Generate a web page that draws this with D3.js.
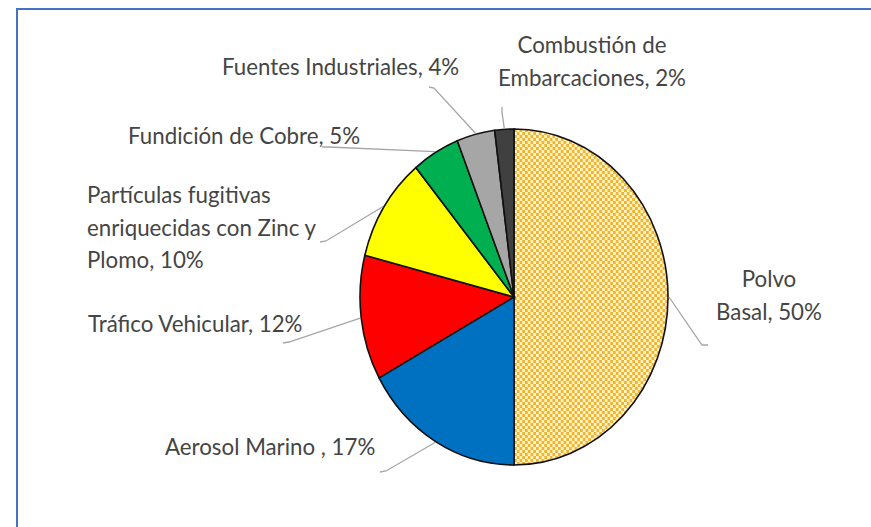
<!DOCTYPE html>
<html>
<head>
<meta charset="utf-8">
<script src="https://cdn.jsdelivr.net/npm/d3@7"></script>
<style>
  body { margin: 0; background: #fff; }
  svg { display: block; }
</style>
</head>
<body>
<div id="visual"></div>
<script>
// Data
const categories = ["Polvo Basal", "Aerosol Marino", "Tráfico Vehicular",
  "Partículas fugitivas enriquecidas con Zinc y Plomo", "Fundición de Cobre",
  "Fuentes Industriales", "Combustión de Embarcaciones"];
const values = [50, 17, 12, 10, 5, 4, 2];
const labelLines = [
  ["Polvo", "Basal, 50%"],
  ["Aerosol Marino , 17%"],
  ["Tráfico Vehicular, 12%"],
  ["Partículas fugitivas", "enriquecidas con Zinc y", "Plomo, 10%"],
  ["Fundición de Cobre, 5%"],
  ["Fuentes Industriales, 4%"],
  ["Combustión de", "Embarcaciones, 2%"]
];
const colors = ["url(#checker)", "#0070C0", "#FF0000", "#FFFF00", "#00B050", "#A6A6A6", "#404040"];

// label layout: text position, anchor, leader elbow + end
const labelLayout = [
  { x: 769, y: 287, anchor: "middle", elbow: [702, 345], end: [708, 345] },
  { x: 165, y: 455, anchor: "start", elbow: [386, 471], end: [380, 472] },
  { x: 88, y: 332, anchor: "start", elbow: [289, 342], end: [283, 343] },
  { x: 87, y: 203, anchor: "start", elbow: [326, 241], end: [320, 242] },
  { x: 128, y: 144, anchor: "start", elbow: [328, 147], end: [322, 147] },
  { x: 222, y: 75, anchor: "start", elbow: [434, 88], end: [429, 87] },
  { x: 592, y: 53, anchor: "middle", elbow: [502, 112], end: [502, 107] }
];

const W = 871, H = 527;
const cx = 514, cy = 297, rx = 154, ry = 168;

const svg = d3.select("#visual").append("svg")
  .attr("width", W).attr("height", H);

// checkerboard fill for Polvo Basal
const pat = svg.append("defs").append("pattern")
  .attr("id", "checker")
  .attr("patternUnits", "userSpaceOnUse")
  .attr("width", 6).attr("height", 6);
pat.append("rect").attr("width", 6).attr("height", 6).attr("fill", "#FFF3C8");
pat.append("rect").attr("width", 3).attr("height", 3).attr("fill", "#F2B42E");
pat.append("rect").attr("x", 3).attr("y", 3).attr("width", 3).attr("height", 3).attr("fill", "#F2B42E");

// frame (left + top only)
svg.append("path")
  .attr("d", `M17,${H} L17,9 L${W},9`)
  .attr("fill", "none")
  .attr("stroke", "#4472C4")
  .attr("stroke-width", 2);

const data = categories.map((c, i) => ({ name: c, value: values[i], lines: labelLines[i], color: colors[i], lay: labelLayout[i] }));

const pie = d3.pie().value(d => d.value).sort(null);
const arcs = pie(data);
const arc = d3.arc().innerRadius(0).outerRadius(ry);

// draw pie squashed into an ellipse
const g = svg.append("g")
  .attr("transform", `translate(${cx},${cy}) scale(${rx / ry},1)`);

g.selectAll("path")
  .data(arcs)
  .enter()
  .append("path")
  .attr("d", arc)
  .attr("fill", d => d.data.color)
  .attr("stroke", "#111")
  .attr("stroke-width", 1.6)
  .attr("vector-effect", "non-scaling-stroke");

// point on ellipse edge at a slice's mid angle
function edgePoint(d, extra) {
  const a = (d.startAngle + d.endAngle) / 2;
  return [cx + (rx + extra) * Math.sin(a), cy - (ry + extra) * Math.cos(a)];
}

// leader lines
svg.selectAll("polyline.leader")
  .data(arcs)
  .enter()
  .append("polyline")
  .attr("class", "leader")
  .attr("points", d => [edgePoint(d, 1), d.data.lay.elbow, d.data.lay.end].map(p => p.join(",")).join(" "))
  .attr("fill", "none")
  .attr("stroke", "#A6A6A6")
  .attr("stroke-width", 1.3);

// labels
const labels = svg.selectAll("text.lbl")
  .data(arcs)
  .enter()
  .append("text")
  .attr("class", "lbl")
  .attr("x", d => d.data.lay.x)
  .attr("y", d => d.data.lay.y)
  .attr("text-anchor", d => d.data.lay.anchor)
  .style("font-family", "Lato, 'Open Sans', sans-serif")
  .style("font-size", "22.3px")
  .style("fill", "#454545");

labels.each(function(d) {
  const t = d3.select(this);
  d.data.lines.forEach((ln, i) => {
    t.append("tspan")
      .attr("x", d.data.lay.x)
      .attr("dy", i === 0 ? 0 : 32.5)
      .text(ln);
  });
});
</script>
</body>
</html>
